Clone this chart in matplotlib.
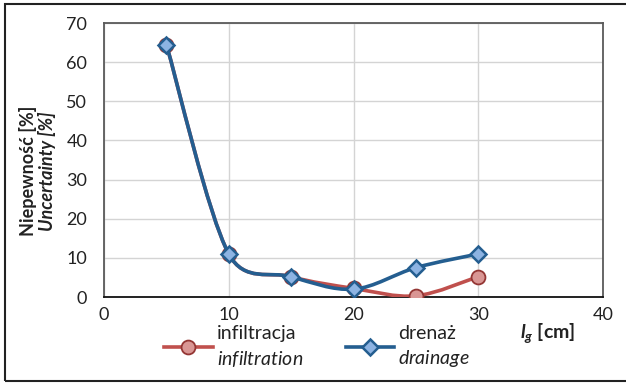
import numpy as np
import matplotlib
matplotlib.use('Agg')
import matplotlib.pyplot as plt
from matplotlib.path import Path
from matplotlib.patches import PathPatch, Rectangle
from matplotlib.lines import Line2D

plt.rcParams['font.family'] = ['Lato', 'DejaVu Sans']
plt.rcParams['mathtext.fontset'] = 'custom'
plt.rcParams['mathtext.it'] = 'Lato:italic'
plt.rcParams['mathtext.bf'] = 'Lato:bold:italic'
plt.rcParams['mathtext.rm'] = 'Lato'

lg = [5, 10, 15, 20, 25, 30]
infiltration = [64.5, 11.0, 5.2, 2.2, 0.3, 5.2]
drainage = [64.5, 11.0, 5.2, 2.0, 7.5, 11.0]
xticks = [0, 10, 20, 30, 40]
yticks = [0, 10, 20, 30, 40, 50, 60, 70]

red_line, red_face, red_edge = '#c0504d', '#d99694', '#943634'
blue_line, blue_face, blue_edge = '#245e90', '#8db3e2', '#1f4e79'

W, H = 626, 383
fig = plt.figure(figsize=(W/100, H/100), dpi=100)
ax = fig.add_axes([104/W, 1-297/H, 499/W, 274/H])
ax.set_xlim(0, 40)
ax.set_ylim(0, 70)

def smooth(ax, x, y, **kw):
    # excel-like smoothed line: bezier through points, built in pixel space
    pts = ax.transData.transform(np.column_stack([x, y]))
    n = len(pts)
    verts = [pts[0]]
    codes = [Path.MOVETO]
    for i in range(n-1):
        p0 = pts[max(i-1, 0)]
        p1 = pts[i]
        p2 = pts[i+1]
        p3 = pts[min(i+2, n-1)]
        seg = np.linalg.norm(p2-p1)
        t1 = (p2-p0)/6
        t2 = (p3-p1)/6
        if np.linalg.norm(t1) > seg/2:
            t1 = t1*seg/2/np.linalg.norm(t1)
        if np.linalg.norm(t2) > seg/2:
            t2 = t2*seg/2/np.linalg.norm(t2)
        verts += [p1+t1, p2-t2, p2]
        codes += [Path.CURVE4]*3
    verts = ax.transData.inverted().transform(np.array(verts))
    ax.add_patch(PathPatch(Path(verts, codes), fill=False, **kw))

smooth(ax, lg, infiltration, edgecolor=red_line, lw=2.6, capstyle='round', zorder=3)
ax.plot(lg, infiltration, ls='none', marker='o', ms=10, mfc=red_face, mec=red_edge, mew=1.3, zorder=4)
smooth(ax, lg, drainage, edgecolor=blue_line, lw=2.6, capstyle='round', zorder=5)
ax.plot(lg, drainage, ls='none', marker='D', ms=8.5, mfc=blue_face, mec=blue_line, mew=1.8, zorder=6)

ax.set_xticks(xticks)
ax.set_yticks(yticks)
ax.tick_params(length=0, labelsize=13, colors='#222222')
ax.tick_params(axis='y', pad=12)
ax.tick_params(axis='x', pad=7)
ax.grid(True, color='#d4d4d4', lw=1)
ax.set_axisbelow(True)
for s in ['left', 'top', 'right']:
    ax.spines[s].set_color('#5a5a5a')
    ax.spines[s].set_linewidth(1.3)
ax.spines['bottom'].set_color('#111111')
ax.spines['bottom'].set_linewidth(1.3)

fig.text(28/W, 1-171/H, 'Niepewność [%]', rotation=90, ha='center', va='center',
         fontsize=13, fontweight='bold', color='#222222')
fig.text(47/W, 1-171/H, 'Uncertainty [%]', rotation=90, ha='center', va='center',
         fontsize=13, fontweight='bold', fontstyle='italic', color='#222222')
fig.text(520/W, 1-333/H, r'$\mathbf{l_g}$ [cm]', ha='left', va='center',
         fontsize=14, fontweight='bold', color='#222222')

handles = [
    Line2D([], [], color=red_line, lw=2.6, marker='o', ms=10, mfc=red_face, mec=red_edge, mew=1.3),
    Line2D([], [], color=blue_line, lw=2.6, marker='D', ms=8.5, mfc=blue_face, mec=blue_line, mew=1.8),
]
labels = ['infiltracja\n$\\mathit{infiltration}$', 'drenaż\n$\\mathit{drainage}$']
leg = fig.legend(handles, labels, loc='center', bbox_to_anchor=(317/W, 1-347/H), ncol=2,
                 frameon=False, fontsize=14, handlelength=2.5, handletextpad=0.2,
                 columnspacing=2.2, labelcolor='#222222', borderpad=0)
for t in leg.get_texts():
    t.set_linespacing(1.4)

fig.patches.append(Rectangle((5/W, 2/H), 1.0, 1-6/H, transform=fig.transFigure,
                             fill=False, edgecolor='#222222', lw=1.5))

fig.savefig('out.png', dpi=100)
